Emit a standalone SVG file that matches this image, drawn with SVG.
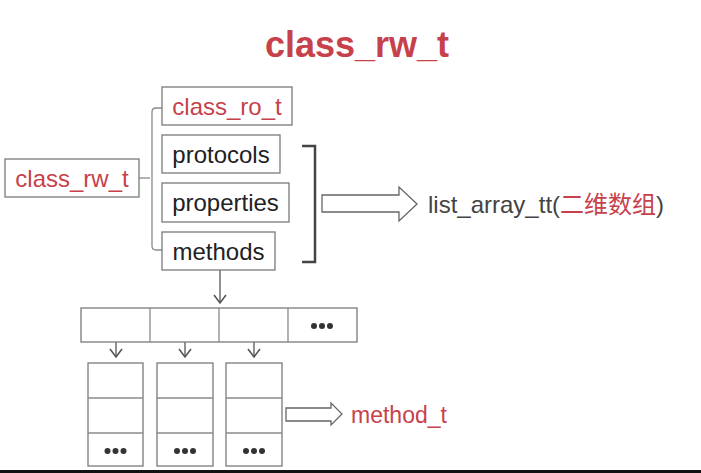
<svg xmlns="http://www.w3.org/2000/svg" width="701" height="473" viewBox="0 0 701 473">
<defs>
<style>
.box{fill:#fff;stroke:#7a7a7a;stroke-width:1.3}
.red{fill:#c7414b;font-family:"Liberation Sans",Arial,sans-serif}
.blk{fill:#222;font-family:"Liberation Sans",Arial,sans-serif}
.gry{fill:#444;font-family:"Liberation Sans","Noto Sans CJK SC",sans-serif}
.ln{fill:none;stroke:#8a8a8a;stroke-width:1.3}
.dot{fill:#333}
.hollow{fill:#fff;stroke:#666;stroke-width:1.3}
.arr{fill:none;stroke:#555;stroke-width:1.3}
</style>
<marker id="chev" markerWidth="12" markerHeight="14" refX="10" refY="7" orient="auto" markerUnits="userSpaceOnUse" viewBox="0 0 12 14">
<path d="M2,1 L10,7 L2,13" fill="none" stroke="#555" stroke-width="1.6"/>
</marker>
</defs>
<rect width="701" height="473" fill="#fff"/>
<text x="357" y="57" text-anchor="middle" font-size="36" font-weight="bold" class="red">class_rw_t</text>

<g id="connectors">
<path class="ln" d="M139,178 H150"/>
<path class="ln" d="M162,108 H156 Q152,108 152,112 V246 Q152,250 156,250 H162"/>
<path d="M302,146 H315 V262 H302" fill="none" stroke="#444" stroke-width="2.5"/>
<path class="hollow" d="M322,195 H399 V187 L417,204 L399,221 V212 H322 Z"/>
<path class="arr" d="M220,270 V303" marker-end="url(#chev)"/>
<path class="arr" d="M116,325 V357" marker-end="url(#chev)"/>
<path class="arr" d="M185,325 V357" marker-end="url(#chev)"/>
<path class="arr" d="M254,325 V357" marker-end="url(#chev)"/>
<path class="hollow" d="M286,408 H331 V403 L342,414 L331,425 V421 H286 Z"/>
</g>

<g id="class_rw_t">
<rect class="box" x="5" y="159" width="134" height="38"/>
<text x="72" y="187" text-anchor="middle" font-size="24" class="red">class_rw_t</text>
</g>
<g id="class_ro_t">
<rect class="box" x="162" y="87" width="130" height="38"/>
<text x="227" y="115" text-anchor="middle" font-size="24" class="red">class_ro_t</text>
</g>
<g id="protocols">
<rect class="box" x="162" y="135" width="118" height="38"/>
<text x="221" y="163" text-anchor="middle" font-size="24" class="blk">protocols</text>
</g>
<g id="properties">
<rect class="box" x="162" y="183" width="127" height="39"/>
<text x="225.5" y="211" text-anchor="middle" font-size="24" class="blk">properties</text>
</g>
<g id="methods">
<rect class="box" x="162" y="232" width="113" height="38"/>
<text x="218.5" y="260" text-anchor="middle" font-size="24" class="blk">methods</text>
</g>
<g id="list_array_tt">
<text x="428" y="213" font-size="24" class="gry">list_array_tt(<tspan fill="#c7414b">二维数组</tspan>)</text>
</g>

<g id="array">
<rect class="box" x="81" y="308" width="276" height="34"/>
<path class="ln" d="M150,308 V342 M219,308 V342 M288,308 V342" stroke="#7a7a7a"/>
<circle class="dot" cx="314" cy="326" r="3"/>
<circle class="dot" cx="322" cy="326" r="3"/>
<circle class="dot" cx="330" cy="326" r="3"/>
</g>

<g id="col1">
<rect class="box" x="88" y="363" width="55" height="103"/>
<path class="ln" d="M88,398 H143 M88,433 H143" stroke="#7a7a7a"/>
<circle class="dot" cx="107.5" cy="451" r="3"/>
<circle class="dot" cx="115.5" cy="451" r="3"/>
<circle class="dot" cx="123.5" cy="451" r="3"/>
</g>
<g id="col2">
<rect class="box" x="157" y="363" width="56" height="103"/>
<path class="ln" d="M157,398 H213 M157,433 H213" stroke="#7a7a7a"/>
<circle class="dot" cx="177" cy="451" r="3"/>
<circle class="dot" cx="185" cy="451" r="3"/>
<circle class="dot" cx="193" cy="451" r="3"/>
</g>
<g id="col3">
<rect class="box" x="226" y="363" width="56" height="103"/>
<path class="ln" d="M226,398 H282 M226,433 H282" stroke="#7a7a7a"/>
<circle class="dot" cx="246" cy="451" r="3"/>
<circle class="dot" cx="254" cy="451" r="3"/>
<circle class="dot" cx="262" cy="451" r="3"/>
</g>
<g id="method_t">
<text x="351" y="423" font-size="23" class="red">method_t</text>
</g>
<rect x="0" y="470" width="701" height="3" fill="#111"/>
</svg>
